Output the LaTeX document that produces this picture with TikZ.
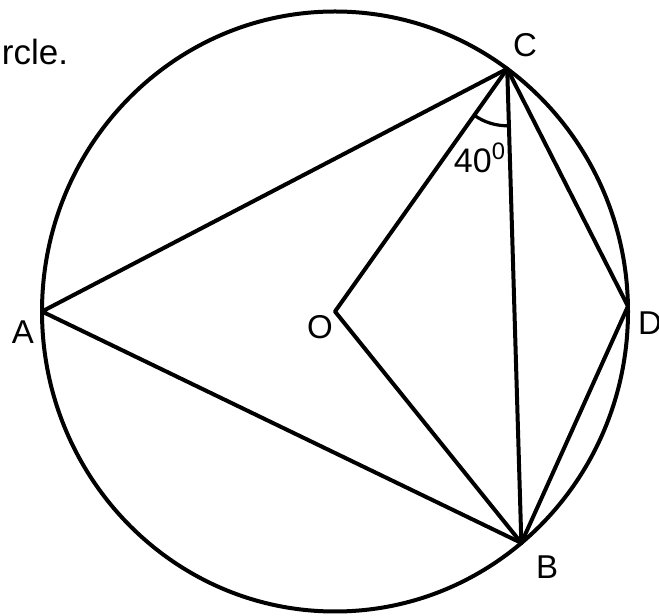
\documentclass[tikz,border=0pt]{standalone}
\usepackage{fontspec}
\setmainfont{Liberation Sans}
\usetikzlibrary{angles}

\begin{document}
\begin{tikzpicture}[x=0.5pt,y=0.5pt,line width=2pt,line cap=round,line join=round,
    lbl/.style={font=\fontsize{16.5}{18}\selectfont,inner sep=0pt}]
  \useasboundingbox (0,0) rectangle (659,616);
  % --- circle and points on it ---
  \coordinate (O) at (335,304.5);
  \draw (O) ellipse [x radius=293, y radius=300];
  \coordinate (C) at ([shift={(O)}]54:293 and 300);
  \coordinate (B) at ([shift={(O)}]-50.5:293 and 300);
  \coordinate (D) at ([shift={(O)}]1:293 and 300);
  \coordinate (A) at ([shift={(O)}]180:293 and 300);
  % --- chords and radii ---
  \draw (A) -- (C) -- (D) -- (B) -- cycle;
  \draw (C) -- (B);
  \draw (C) -- (O) -- (B);
  % --- angle at C ---
  \pic[draw,line width=1.6pt,angle radius=28.5pt] {angle=O--C--B};
  \node[font=\fontsize{17}{20}\selectfont,inner sep=0pt] (angC) at (480,458)
       {40\textsuperscript{0}};
  % labels
  \node[lbl] (labC) at (525,571) {C};
  \node[lbl] (labO) at (320,289) {O};
  \node[lbl] (labA) at (23,284) {A};
  \node[lbl] (labD) at (650,293) {D};
  \node[lbl] (labB) at (547,49) {B};
  \node[font=\fontsize{17.5}{20}\selectfont,inner sep=0pt,anchor=base west]
       (txt) at (0,551) {rcle.};
\end{tikzpicture}
\end{document}
